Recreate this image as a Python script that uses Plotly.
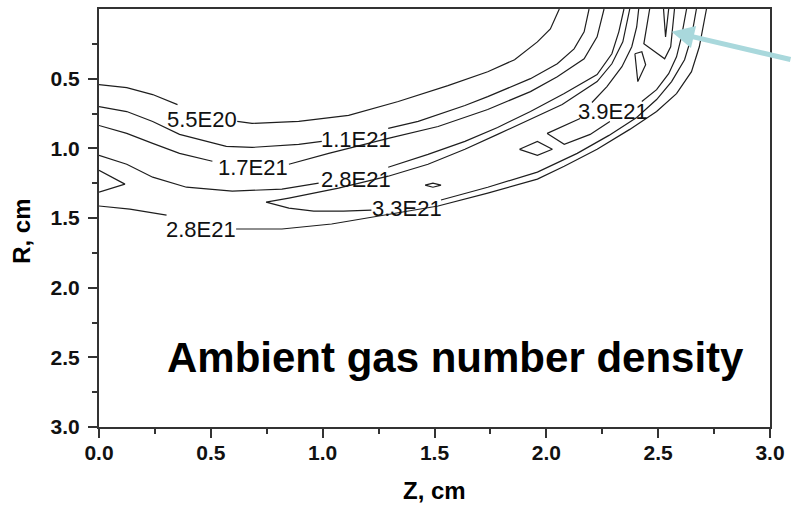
import plotly.graph_objects as go

# ---- Contour lines (Z, R in cm); None marks the gap where the level label sits ----
Z_55E20 = [0, 0.124, 0.240, 0.351, None, 0.618, 0.684, 0.893, 1.116, 1.338, 1.560, 1.738, 1.858, 1.960, 2.018, 2.058]
R_55E20 = [0.543, 0.564, 0.614, 0.686, None, 0.807, 0.821, 0.807, 0.764, 0.664, 0.550, 0.450, 0.364, 0.236, 0.143, 0.0]

Z_11E21 = [0, 0.124, 0.240, 0.360, 0.569, 0.684, 0.893, 0.996, None, 1.293, 1.427, 1.636, 1.738, 1.929, 2.049, 2.124, 2.169, 2.191]
R_11E21 = [0.700, 0.736, 0.807, 0.900, 0.986, 0.993, 0.971, 0.950, None, 0.857, 0.807, 0.693, 0.629, 0.500, 0.393, 0.286, 0.164, 0.0]

Z_17E21 = [0, 0.124, 0.240, 0.360, 0.507, None, 0.849, 1.027, 1.293, 1.516, 1.738, 1.929, 2.049, 2.169, 2.227, 2.258]
R_17E21 = [0.836, 0.893, 0.964, 1.036, 1.093, None, 1.114, 1.036, 0.929, 0.843, 0.721, 0.593, 0.486, 0.357, 0.200, 0.0]

Z_28E21_IN = [0, 0.124, 0.240, 0.391, 0.596, 0.818, 0.982, None, 1.293, 1.471, 1.636, 1.782, 1.929, 2.080, 2.227, 2.293, 2.324, 2.347]
R_28E21_IN = [1.050, 1.114, 1.207, 1.279, 1.307, 1.293, 1.250, None, 1.136, 1.043, 0.950, 0.850, 0.736, 0.607, 0.471, 0.321, 0.164, 0.0]

Z_33E21 = [2.373, 2.342, 2.293, 2.227, 2.071, 1.929, 1.782, 1.636, 1.471, 1.293, 1.071, 0.849, 0.747,
           0.849, 0.960, 1.093, 1.218, None, 1.529, 1.738, 1.960, 2.138, 2.280, 2.404, 2.493, 2.560, 2.618, 2.649, 2.671]
R_33E21 = [0.0, 0.236, 0.393, 0.521, 0.686, 0.793, 0.900, 1.007, 1.114, 1.200, 1.286, 1.357, 1.386,
           1.429, 1.450, 1.450, 1.443, None, 1.371, 1.279, 1.171, 1.036, 0.907, 0.779, 0.650, 0.521, 0.364, 0.200, 0.0]

Z_39E21 = [2.413, 2.404, 2.382, 2.338, 2.271, 2.204, None, 2.284, 2.196, 2.080, 2.004, 2.151, None,
           2.427, 2.493, 2.547, 2.582, 2.604, 2.627]
R_39E21 = [0.0, 0.129, 0.271, 0.414, 0.557, 0.671, None, 0.807, 0.900, 0.971, 0.893, 0.786, None,
           0.664, 0.579, 0.464, 0.343, 0.200, 0.0]

Z_28E21_OUT = [0, 0.138, 0.302, None, 0.613, 0.818, 1.040, 1.249, 1.516, 1.738, 1.960, 2.080, 2.227, 2.373, 2.493, 2.582, 2.649, 2.684, 2.702, 2.716]
R_28E21_OUT = [1.414, 1.436, 1.479, None, 1.579, 1.579, 1.543, 1.486, 1.414, 1.321, 1.221, 1.129, 1.007, 0.864, 0.736, 0.607, 0.450, 0.271, 0.129, 0.0]

# small closed / partial contour pieces
Z_PIECE_B = [1.880, 1.960, 2.027, 1.960, 1.880]
R_PIECE_B = [1.007, 0.950, 1.007, 1.050, 1.007]
Z_PIECE_C = [2.396, 2.409, 2.444, 2.427, 2.396]
R_PIECE_C = [0.321, 0.521, 0.400, 0.307, 0.321]
Z_PIECE_D = [2.462, 2.449, 2.436, 2.529, 2.556, 2.573]
R_PIECE_D = [0.0, 0.129, 0.250, 0.357, 0.271, 0.0]
Z_PIECE_E = [2.524, 2.533, 2.547]
R_PIECE_E = [0.0, 0.200, 0.0]
Z_WEDGE = [0, 0.116, 0]
R_WEDGE = [1.157, 1.257, 1.314]
Z_MARK = [1.458, 1.493, 1.529, 1.493, 1.458]
R_MARK = [1.264, 1.250, 1.264, 1.279, 1.264]

# level labels
LABEL_TEXT = ["5.5E20", "1.1E21", "1.7E21", "2.8E21", "3.3E21", "2.8E21", "3.9E21"]
LABEL_Z = [0.460, 1.147, 0.689, 1.147, 1.378, 0.458, 2.298]
LABEL_R = [0.793, 0.936, 1.136, 1.221, 1.429, 1.579, 0.736]

X_TICKS = [0.0, 0.5, 1.0, 1.5, 2.0, 2.5, 3.0]
X_MINOR = [0.25, 0.75, 1.25, 1.75, 2.25, 2.75]
Y_TICKS = [0.5, 1.0, 1.5, 2.0, 2.5, 3.0]
Y_MINOR = [0.25, 0.75, 1.25, 1.75, 2.25, 2.75]

ARROW_TIP = (2.56, 0.164)

LINE_COLOR = "#1e1e1e"
FONT = "Liberation Sans, Arial, sans-serif"

lines = [
    (Z_55E20, R_55E20), (Z_11E21, R_11E21), (Z_17E21, R_17E21),
    (Z_28E21_IN, R_28E21_IN), (Z_33E21, R_33E21), (Z_39E21, R_39E21),
    (Z_28E21_OUT, R_28E21_OUT), (Z_PIECE_B, R_PIECE_B), (Z_PIECE_C, R_PIECE_C),
    (Z_PIECE_D, R_PIECE_D), (Z_PIECE_E, R_PIECE_E), (Z_WEDGE, R_WEDGE), (Z_MARK, R_MARK),
]

fig = go.Figure()
for zs, rs in lines:
    fig.add_trace(go.Scatter(x=zs, y=rs, mode="lines",
                             line=dict(color=LINE_COLOR, width=1.2),
                             showlegend=False, hoverinfo="skip", connectgaps=False))

annotations = []
for t, z, r in zip(LABEL_TEXT, LABEL_Z, LABEL_R):
    annotations.append(dict(x=z, y=r, xref="x", yref="y", text=t, showarrow=False,
                            xanchor="center", yanchor="middle",
                            font=dict(family=FONT, size=22, color="#111")))

annotations.append(dict(x=0.293, y=2.5, xref="x", yref="y", text="Ambient gas number density",
                        showarrow=False, xanchor="left", yanchor="middle",
                        font=dict(family=FONT, size=42, color="#000", weight="bold")))

annotations.append(dict(x=ARROW_TIP[0], y=ARROW_TIP[1], xref="x", yref="y", text="",
                        showarrow=True, ax=140, ay=28, axref="pixel", ayref="pixel",
                        arrowhead=2, arrowsize=0.9, arrowwidth=5, arrowcolor="#a9d8dc"))

annotations.append(dict(x=0.5, y=0, xref="paper", yref="paper", text="Z, cm", showarrow=False,
                        xanchor="center", yanchor="middle", yshift=-63,
                        font=dict(family=FONT, size=24, color="#000", weight="bold")))
annotations.append(dict(x=0, y=0.467, xref="paper", yref="paper", text="R, cm", showarrow=False,
                        xanchor="center", yanchor="middle", xshift=-77, textangle=-90,
                        font=dict(family=FONT, size=24, color="#000", weight="bold")))

axis_common = dict(showline=True, linewidth=2, linecolor="#333", mirror=True,
                   showgrid=False, zeroline=False, ticks="outside", ticklen=9,
                   tickwidth=2, tickcolor="#333",
                   tickfont=dict(family=FONT, size=21, color="#111", weight="bold"))

fig.update_layout(
    width=792, height=507,
    margin=dict(l=99, r=18, t=7, b=80),
    paper_bgcolor="white", plot_bgcolor="white",
    xaxis=dict(range=[0, 3], tickmode="array", tickvals=X_TICKS,
               ticktext=[f"{v:.1f}" for v in X_TICKS], ticklabelstandoff=-3,
               minor=dict(tickmode="array", tickvals=X_MINOR, ticks="outside",
                          ticklen=5, tickwidth=1.5, tickcolor="#333"),
               **axis_common),
    yaxis=dict(range=[3.0, 0.0], tickmode="array", tickvals=Y_TICKS,
               ticktext=[f"{v:.1f}" for v in Y_TICKS], ticklabelstandoff=4,
               minor=dict(tickmode="array", tickvals=Y_MINOR, ticks="outside",
                          ticklen=5, tickwidth=1.5, tickcolor="#333"),
               **axis_common),
    annotations=annotations,
)

fig.write_html("out.html", config={"displayModeBar": False},
               post_script="document.body.style.margin='0px';")
